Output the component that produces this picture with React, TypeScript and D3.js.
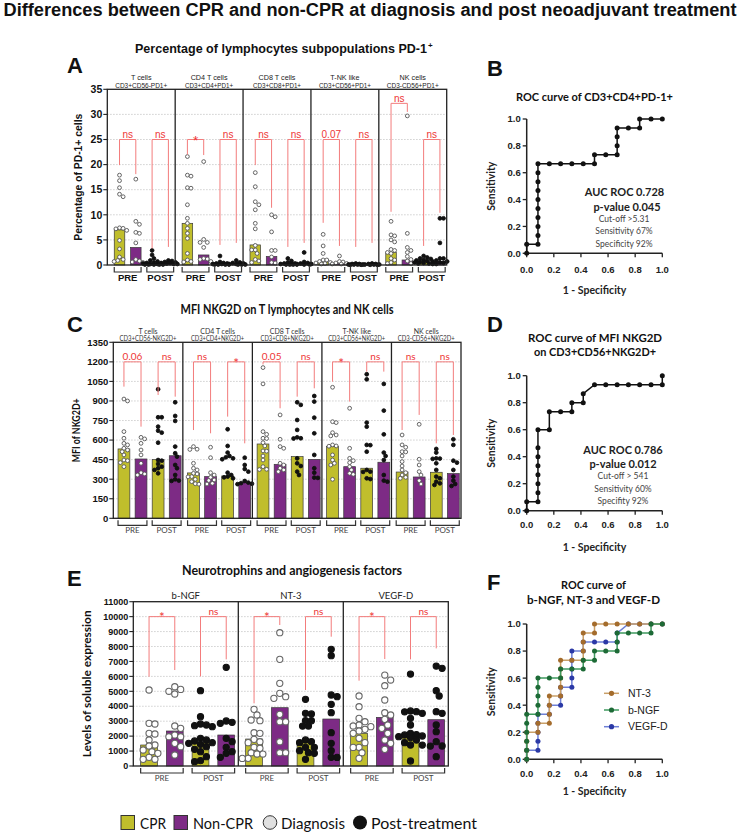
import React from "react";
import * as d3 from "d3";

const ARIAL = "'Liberation Sans', Arial, Helvetica, sans-serif";
const CAL = "Lato, 'Open Sans', sans-serif";
const CPR_COLOR = "#c0be2c";
const NON_COLOR = "#7d2b85";
const RED_LINE = "#f37c7c";
const RED_TEXT = "#ee3636";

const seriesKeys = ["CPR-PRE", "NonCPR-PRE", "CPR-POST", "NonCPR-POST"];
const seriesColors = [CPR_COLOR, NON_COLOR, CPR_COLOR, NON_COLOR];
const stageLabels = ["PRE", "POST"];

// ---------- Panel A ----------
const aCells = ["T cells", "CD4 T cells", "CD8 T cells", "T-NK like", "NK cells"];
const aMarkers = ["CD3+CD56-PD1+", "CD3+CD4+PD1+", "CD3+CD8+PD1+", "CD3+CD56+PD1+", "CD3-CD56+PD1+"];
const aTicks = [0, 5, 10, 15, 20, 25, 30, 35];
const aBars = [
  [7.0, 3.5, 0.3, 0.3],
  [8.3, 2.0, 0.2, 0.2],
  [4.0, 1.7, 0.2, 0.2],
  [0.6, 0.3, 0.1, 0.1],
  [2.5, 1.0, 0.8, 0.7],
];
const aPoints = [
  [[17.9, 16.8, 15.4, 14.1, 13.6, 7.4, 7.3, 7.2, 6.9, 4.9, 3.2, 1.6, 1.1, 0.9, 0.7],
   [17.1, 8.7, 8.1, 6.5, 6.3, 4.4, 1.1, 0.8, 0.6, 0.5],
   [2.9, 2.0, 1.3, 0.9, 0.7, 0.5, 0.4, 0.3, 0.3, 0.2, 0.2, 0.1, 0.1, 0.1],
   [0.9, 0.8, 0.6, 0.5, 0.4, 0.4, 0.3, 0.2, 0.2, 0.1, 0.1]],
  [[21.6, 17.9, 17.7, 15.4, 15.3, 12.0, 9.3, 8.3, 7.3, 6.3, 5.3, 2.3, 1.0, 0.7, 0.6],
   [20.6, 5.1, 4.5, 4.5, 3.5, 1.3, 1.2, 1.1, 0.7],
   [1.8, 0.6, 0.4, 0.3, 0.3, 0.2, 0.2, 0.1, 0.1, 0.1, 0.1],
   [0.9, 0.5, 0.4, 0.3, 0.2, 0.2, 0.1, 0.1, 0.1]],
  [[18.4, 15.6, 12.6, 12.0, 11.0, 8.3, 7.2, 3.9, 3.0, 3.0, 2.3, 1.1, 0.8, 0.5],
   [10.0, 9.6, 6.6, 2.9, 2.9, 1.6, 0.5, 0.4],
   [1.3, 0.8, 0.5, 0.3, 0.3, 0.2, 0.2, 0.1, 0.1, 0.1, 0.1],
   [2.5, 0.6, 0.4, 0.3, 0.2, 0.2, 0.1, 0.1]],
  [[6.1, 3.8, 2.3, 1.0, 1.0, 0.7, 0.5, 0.4, 0.3, 0.2],
   [1.8, 0.7, 0.6, 0.4, 0.3, 0.2, 0.2],
   [0.3, 0.2, 0.2, 0.1, 0.1, 0.1, 0.1, 0.05, 0.05],
   [0.3, 0.2, 0.2, 0.1, 0.1, 0.1, 0.05, 0.05]],
  [[8.7, 6.0, 5.8, 5.0, 4.6, 3.1, 2.9, 2.5, 2.3, 1.3, 1.0, 0.5, 0.3],
   [29.7, 6.3, 3.5, 2.9, 2.5, 1.7, 1.1, 0.8, 0.3],
   [1.8, 1.5, 1.3, 1.2, 1.0, 0.9, 0.8, 0.7, 0.6, 0.5, 0.4, 0.3, 0.3, 0.2],
   [9.3, 9.3, 4.4, 1.3, 1.3, 0.9, 0.7, 0.5, 0.4, 0.3, 0.2]],
];
const aSigLabels = [["ns", "ns"], ["*", "ns"], ["ns", "ns"], ["0.07", "ns"], ["ns", "ns"]];
const aSigTop = [[25, 25], [25, 25], [25, 25], [25, 25], [32.2, 25]];
const aSigLegs = [
  [[19.9, 18.1], [3.3, 3.6]],
  [[22.0, 21.9], [4.0, 4.4]],
  [[19.9, 11.4], [3.6, 4.4]],
  [[8.4, 3.8], [3.6, 4.4]],
  [[10.6, 30.5], [3.8, 10.4]],
];

// ---------- Panel C ----------
const cCells = ["T cells", "CD4 T cells", "CD8 T cells", "T-NK like", "NK cells"];
const cMarkers = ["CD3+CD56-NKG2D+", "CD3+CD4+NKG2D+", "CD3+CD8+NKG2D+", "CD3+CD56+NKG2D+", "CD3-CD56+NKG2D+"];
const cTicks = [0, 150, 300, 450, 600, 750, 900, 1050, 1200, 1350];
const cBars = [
  [532, 455, 450, 480],
  [348, 320, 325, 275],
  [570, 414, 473, 452],
  [550, 396, 384, 430],
  [355, 317, 353, 343],
];
const cPoints = [
  [[915, 900, 665, 614, 575, 563, 537, 524, 511, 486, 447, 442, 427, 396],
   [621, 609, 575, 524, 486, 422, 350, 340, 332],
   [990, 775, 775, 703, 672, 657, 580, 447, 442, 417, 396, 384, 371, 345],
   [890, 785, 747, 550, 499, 473, 409, 384, 332, 299, 289, 287]],
  [[550, 530, 528, 422, 384, 371, 345, 340, 320, 318, 299, 281, 265, 262],
   [545, 465, 350, 332, 314, 294, 290, 268, 263],
   [683, 555, 504, 478, 468, 460, 453, 350, 332, 320, 314, 307],
   [465, 409, 378, 358, 286, 274, 270, 265, 262]],
  [[1156, 1031, 665, 644, 614, 612, 580, 555, 517, 515, 478, 447, 396, 376, 374],
   [793, 606, 550, 537, 422, 409, 384, 371, 358],
   [890, 870, 754, 678, 621, 614, 612, 460, 422, 401, 358, 332],
   [938, 895, 772, 652, 486, 384, 350, 312, 310]],
  [[1005, 741, 734, 657, 639, 632, 563, 555, 553, 486, 447, 422, 409, 299],
   [844, 537, 460, 442, 427, 396, 371, 345, 337],
   [1105, 1066, 734, 703, 563, 561, 511, 371, 358, 356, 307, 301],
   [1031, 826, 644, 504, 478, 447, 332, 289, 281]],
  [[639, 563, 545, 511, 509, 478, 435, 401, 371, 350, 332, 314, 307],
   [721, 453, 409, 358, 332, 289, 263],
   [532, 504, 460, 458, 456, 422, 371, 320, 307, 281, 268, 256],
   [606, 563, 442, 427, 371, 320, 289, 263, 248]],
];
const cSigLabels = [["0.06", "ns"], ["ns", "*"], ["0.05", "ns"], ["*", "ns"], ["ns", "ns"]];
const cSigTop = [[1200, 1200], [1200, 1200], [1200, 1200], [1200, 1200], [1200, 1200]];
const cSigLegs = [
  [[1010, 703], [946, 933]],
  [[677, 652], [780, 575]],
  [[1180, 844], [933, 997]],
  [[1048, 895], [1125, 1125]],
  [[677, 793], [575, 639]],
];

// ---------- Panel E ----------
const eFactors = ["b-NGF", "NT-3", "VEGF-D"];
const eTicks = [0, 1000, 2000, 3000, 4000, 5000, 6000, 7000, 8000, 9000, 10000, 11000];
const eBars = [
  [1405, 2343, 1584, 2075],
  [1807, 3905, 1718, 3146],
  [2186, 3257, 2120, 3101],
];
const ePoints = [
  [[5087, 2856, 2811, 2186, 2142, 1740, 1406, 1339, 1071, 959, 848, 580, 450, 446],
   [5310, 5130, 5000, 4820, 2677, 2521, 2075, 1963, 1960, 1517, 1294, 736],
   [5042, 3302, 2811, 2744, 2700, 2633, 1852, 1740, 1673, 1562, 1517, 1450, 1294, 1116, 959, 625, 357, 290],
   [6604, 3012, 2922, 2856, 1852, 1628, 1249, 959, 848, 580]],
  [[3793, 3413, 3079, 3034, 2231, 2186, 1785, 1628, 1562, 1249, 1182, 892, 803, 800, 513, 510],
   [8924, 7140, 5532, 4864, 4641, 4529, 3458, 2967, 2960, 1628, 892, 890],
   [4463, 3525, 3480, 3034, 3030, 2677, 2670, 1740, 1628, 1562, 1249, 1245, 1026, 892, 848, 446],
   [7809, 7385, 4752, 4641, 4128, 3570, 2231, 1517, 1026, 580, 575]],
  [[4686, 3971, 3190, 2967, 2744, 2677, 2633, 2454, 2342, 2186, 1852, 1562, 1249, 1245, 892, 513],
   [6090, 5755, 5376, 4418, 3570, 3413, 3123, 2744, 2521, 2186, 1740, 1517, 1116],
   [6157, 3682, 3637, 3630, 3525, 3190, 2744, 2186, 2100, 2075, 2008, 1963, 1900, 1740, 1562, 1406, 1400, 335],
   [6693, 6537, 5042, 4686, 3637, 3525, 2744, 2298, 1628, 1339, 1335, 625]],
];
const eSigLabels = [["*", "ns"], ["*", "ns"], ["*", "ns"]];
const eSigTop = [[10000, 10000], [10000, 10000], [10000, 10000]];
const eSigLegs = [
  [[5980, 6426], [6000, 7140]],
  [[4195, 9440], [5087, 8657]],
  [[5712, 7162], [7140, 7876]],
];

// ---------- ROC data ----------
const rocTicks = [0, 0.2, 0.4, 0.6, 0.8, 1.0];
const bFpr = [0, 0, 0.083, 0.083, 0.083, 0.083, 0.083, 0.083, 0.083, 0.083, 0.083, 0.083, 0.167, 0.25, 0.333, 0.417, 0.5, 0.5, 0.583, 0.667, 0.667, 0.667, 0.667, 0.75, 0.833, 0.833, 0.917, 1];
const bTpr = [0, 0.067, 0.067, 0.133, 0.2, 0.267, 0.333, 0.4, 0.467, 0.533, 0.6, 0.667, 0.667, 0.667, 0.667, 0.667, 0.667, 0.733, 0.733, 0.733, 0.8, 0.867, 0.933, 0.933, 0.933, 1, 1, 1];
const dFpr = [0, 0, 0.083, 0.083, 0.083, 0.083, 0.083, 0.083, 0.083, 0.083, 0.167, 0.167, 0.25, 0.333, 0.333, 0.417, 0.417, 0.5, 0.583, 0.667, 0.75, 0.833, 0.917, 1, 1];
const dTpr = [0, 0.067, 0.067, 0.133, 0.2, 0.267, 0.333, 0.4, 0.467, 0.6, 0.6, 0.733, 0.733, 0.733, 0.8, 0.8, 0.867, 0.933, 0.933, 0.933, 0.933, 0.933, 0.933, 0.933, 1];
const ntFpr = [0, 0, 0, 0, 0.083, 0.083, 0.167, 0.167, 0.167, 0.167, 0.25, 0.25, 0.25, 0.25, 0.25, 0.333, 0.417, 0.417, 0.417, 0.417, 0.5, 0.5, 0.583, 0.667, 0.75, 0.833, 0.917, 1];
const ntTpr = [0, 0.067, 0.133, 0.2, 0.2, 0.267, 0.267, 0.333, 0.4, 0.467, 0.467, 0.533, 0.6, 0.667, 0.733, 0.733, 0.733, 0.8, 0.867, 0.933, 0.933, 1, 1, 1, 1, 1, 1, 1];
const ngfFpr = [0, 0, 0, 0, 0, 0, 0.083, 0.083, 0.083, 0.083, 0.083, 0.167, 0.25, 0.25, 0.333, 0.417, 0.417, 0.5, 0.5, 0.583, 0.667, 0.667, 0.667, 0.75, 0.833, 0.917, 0.917, 1];
const ngfTpr = [0, 0.067, 0.133, 0.2, 0.267, 0.333, 0.333, 0.4, 0.467, 0.533, 0.6, 0.6, 0.6, 0.667, 0.667, 0.667, 0.733, 0.733, 0.8, 0.8, 0.8, 0.867, 0.933, 0.933, 0.933, 0.933, 1, 1];
const vegfFpr = [0, 0, 0.083, 0.083, 0.083, 0.083, 0.083, 0.167, 0.167, 0.25, 0.25, 0.25, 0.333, 0.333, 0.333, 0.333, 0.333, 0.417, 0.417, 0.5, 0.583, 0.667, 0.667, 0.75, 0.833, 0.917, 1];
const vegfTpr = [0, 0.067, 0.067, 0.133, 0.2, 0.267, 0.333, 0.333, 0.4, 0.4, 0.467, 0.533, 0.533, 0.6, 0.667, 0.733, 0.8, 0.8, 0.867, 0.867, 0.867, 0.867, 0.933, 1, 1, 1, 1];

const legendItems = ["CPR", "Non-CPR", "Diagnosis", "Post-treatment"];
const fLegend = ["NT-3", "b-NGF", "VEGF-D"];

function swarm(values: number[], cx: number, y: (v: number) => number, r: number, maxHalf: number) {
  const placed: { x: number; y: number }[] = [];
  const sorted = [...values].sort((a, b) => b - a);
  const step = r * 0.95;
  const minD = r * 1.9;
  for (const v of sorted) {
    const py = y(v);
    let bestX = cx;
    let bestD = -1;
    for (let k = 0; k < 80; k++) {
      const off = k === 0 ? 0 : (k % 2 === 1 ? 1 : -1) * Math.ceil(k / 2) * step;
      if (Math.abs(off) > maxHalf) break;
      const px = cx + off;
      let d = Infinity;
      for (const p of placed) d = Math.min(d, Math.hypot(p.x - px, p.y - py));
      if (d >= minD) { bestX = px; bestD = d; break; }
      if (d > bestD) { bestD = d; bestX = px; }
    }
    placed.push({ x: bestX, y: py });
  }
  return placed;
}

type BarPanelProps = {
  x0: number; x1: number; yZero: number; yTop: number; yMax: number; ticks: number[];
  headers: string[]; subHeaders?: string[]; headerFont: string; headerSize: number; headerY: number; subHeaderY?: number; headerColor: string; charW?: number;
  bars: number[][]; points: number[][][]; sigLabels: string[][]; sigTop: number[][]; sigLegs: number[][][];
  f0: number; f1: number; barFrac: number; r: number; ptStroke: string; ptStrokeW: number; spread: number;
  tickFont: string; tickSize: number;
  stageFont: string; stageSize: number; stageWeight: any; stageDy: number; stageColor: string;
  sigFont: string; sigSize: number;
  yTitle: string; yTitleX: number; yTitleFont: string; yTitleSize: number; yTitleLen?: number;
};

function BarPanel(p: BarPanelProps) {
  const y = d3.scaleLinear().domain([0, p.yMax]).range([p.yZero, p.yTop]);
  const n = p.headers.length;
  const gx = d3.scaleBand<number>().domain(d3.range(n)).range([p.x0, p.x1]);
  const W = gx.bandwidth();
  const bw = W * p.barFrac;
  const grid = p.ticks.filter((t) => t > 0 && t < p.yMax);
  return (
    <g>
      {grid.map((t) => (
        <line key={"g" + t} x1={p.x0} x2={p.x1} y1={y(t)} y2={y(t)} stroke="#b5b5b5" strokeWidth={0.8} strokeDasharray="1.2,1.8" />
      ))}
      {p.headers.map((h, g) => {
        const gl = gx(g) as number;
        const inner = d3.scalePoint<string>().domain(seriesKeys).range([gl + W * p.f0, gl + W * p.f1]);
        return (
          <g key={"grp" + g}>
            {seriesKeys.map((k, i) => {
              const v = p.bars[g][i];
              const cx = inner(k) as number;
              return (
                <rect key={"b" + k} x={cx - bw / 2} y={y(v)} width={bw} height={p.yZero - y(v)} fill={seriesColors[i]} stroke="#3a3a3a" strokeWidth={0.7} />
              );
            })}
            {seriesKeys.map((k, i) => {
              const cx = inner(k) as number;
              const pts = swarm(p.points[g][i], cx, y, p.r, bw * p.spread);
              const filled = i >= 2;
              return pts.map((pt, j) => (
                <circle key={"p" + k + j} cx={pt.x} cy={pt.y} r={p.r} fill={filled ? "#111" : "#fff"} stroke={filled ? "#111" : p.ptStroke} strokeWidth={p.ptStrokeW} />
              ));
            })}
            {[0, 1].map((s) => {
              const xl = inner(seriesKeys[2 * s]) as number;
              const xr = inner(seriesKeys[2 * s + 1]) as number;
              const top = y(p.sigTop[g][s]);
              const yl = y(p.sigLegs[g][s][0]);
              const yr = y(p.sigLegs[g][s][1]);
              const lab = p.sigLabels[g][s];
              const star = lab === "*";
              const fs = star ? p.sigSize * 1.35 : p.sigSize;
              return (
                <g key={"s" + s}>
                  <path d={`M${xl},${yl}V${top}H${xr}V${yr}`} fill="none" stroke={RED_LINE} strokeWidth={1} />
                  <text x={(xl + xr) / 2} y={star ? top + fs * 0.42 : top - 1.8} textAnchor="middle" fontFamily={p.sigFont} fontSize={fs} fill={RED_TEXT}>{lab}</text>
                  <path d={`M${xl - bw / 2},${p.yZero + 2}V${p.yZero + 7}H${xr + bw / 2}V${p.yZero + 2}`} fill="none" stroke="#333" strokeWidth={1.2} />
                  <text x={(xl + xr) / 2} y={p.yZero + p.stageDy} textAnchor="middle" fontFamily={p.stageFont} fontSize={p.stageSize} fontWeight={p.stageWeight} fill={p.stageColor}>{stageLabels[s]}</text>
                </g>
              );
            })}
            <text x={gl + W / 2} y={p.headerY} textAnchor="middle" fontFamily={p.headerFont} fontSize={p.headerSize} fill={p.headerColor}>{h}</text>
            {p.subHeaders && (
              <text x={gl + W / 2} y={p.subHeaderY} textAnchor="middle" fontFamily={p.headerFont} fontSize={p.headerSize} fill={p.headerColor}
                textLength={p.charW ? p.subHeaders[g].length * p.charW : undefined} lengthAdjust="spacingAndGlyphs">{p.subHeaders[g]}</text>
            )}
          </g>
        );
      })}
      <rect x={p.x0} y={p.yTop} width={p.x1 - p.x0} height={p.yZero - p.yTop} fill="none" stroke="#222" strokeWidth={1.3} />
      {d3.range(1, n).map((g) => (
        <line key={"d" + g} x1={gx(g)} x2={gx(g)} y1={p.yTop} y2={p.yZero} stroke="#222" strokeWidth={1.3} />
      ))}
      {p.ticks.map((t) => (
        <g key={"t" + t}>
          <line x1={p.x0 - 4} x2={p.x0} y1={y(t)} y2={y(t)} stroke="#222" strokeWidth={1.1} />
          <text x={p.x0 - 5} y={y(t) + p.tickSize * 0.36} textAnchor="end" fontFamily={p.tickFont} fontWeight="bold" fontSize={p.tickSize} fill="#111">{t}</text>
        </g>
      ))}
      <text transform={`translate(${p.yTitleX},${(p.yZero + p.yTop) / 2}) rotate(-90)`} textAnchor="middle" dy="0.35em" fontFamily={p.yTitleFont} fontWeight="bold" fontSize={p.yTitleSize} fill="#111" textLength={p.yTitleLen} lengthAdjust={p.yTitleLen ? "spacingAndGlyphs" : undefined}>{p.yTitle}</text>
    </g>
  );
}

type Curve = { fpr: number[]; tpr: number[]; dot: string; line: string };
type RocProps = { yZero: number; yOne: number; curves: Curve[]; xTickBase: number; xTitleBase: number };

function Roc(p: RocProps) {
  const x = d3.scaleLinear().domain([0, 1]).range([526.7, 662.3]);
  const y = d3.scaleLinear().domain([0, 1]).range([p.yZero, p.yOne]);
  return (
    <g>
      <line x1={x(0)} x2={x(1)} y1={p.yZero} y2={p.yZero} stroke="#222" strokeWidth={1.5} />
      <line x1={x(0)} x2={x(0)} y1={p.yZero} y2={p.yOne} stroke="#222" strokeWidth={1.5} />
      {rocTicks.map((t) => (
        <g key={"rt" + t}>
          <line x1={x(t)} x2={x(t)} y1={p.yZero} y2={p.yZero + 4} stroke="#222" strokeWidth={1.3} />
          <text x={x(t)} y={p.xTickBase} textAnchor="middle" fontFamily={ARIAL} fontWeight="bold" fontSize={9.5} fill="#222">{t.toFixed(1)}</text>
          <line x1={x(0) - 4} x2={x(0)} y1={y(t)} y2={y(t)} stroke="#222" strokeWidth={1.3} />
          <text x={x(0) - 6} y={y(t) + 3.4} textAnchor="end" fontFamily={ARIAL} fontWeight="bold" fontSize={9.5} fill="#222">{t.toFixed(1)}</text>
        </g>
      ))}
      {p.curves.map((c, ci) => {
        const pts = c.fpr.map((f, i) => [x(f), y(c.tpr[i])] as [number, number]);
        const path = d3.line()(pts) || "";
        return (
          <g key={"c" + ci}>
            <path d={path} fill="none" stroke={c.line} strokeWidth={1.5} />
            {pts.map((pt, i) => (
              <circle key={i} cx={pt[0]} cy={pt[1]} r={2.5} fill={c.dot} />
            ))}
          </g>
        );
      })}
      <text x={x(0.5)} y={p.xTitleBase} textAnchor="middle" fontFamily={CAL} fontWeight="bold" fontSize={10.5} fill="#222">1 - Specificity</text>
      <text transform={`translate(491.7,${(p.yZero + p.yOne) / 2}) rotate(-90)`} textAnchor="middle" dy="0.35em" fontFamily={CAL} fontWeight="bold" fontSize={10.5} fill="#222">Sensitivity</text>
    </g>
  );
}

export default function App() {
  const letter = (t: string, x: number, yb: number) => (
    <text x={x} y={yb} fontFamily={ARIAL} fontWeight="bold" fontSize={22} fill="#111">{t}</text>
  );
  const legendX = [121, 174, 270, 360];
  return (
    <svg width={740} height={833} style={{ position: "absolute", left: 0, top: 0, background: "#fff" }} xmlns="http://www.w3.org/2000/svg">
      <rect width={740} height={833} fill="#fff" />
      <text x={370} y={16} textAnchor="middle" fontFamily={ARIAL} fontWeight="bold" fontSize={17.5} textLength={733} lengthAdjust="spacingAndGlyphs" fill="#111">Differences between CPR and non-CPR at diagnosis and post neoadjuvant treatment</text>

      {/* Panel A */}
      {letter("A", 67, 73)}
      <text x={135} y={53} fontFamily={ARIAL} fontWeight="bold" fontSize={12} textLength={292} lengthAdjust="spacingAndGlyphs" fill="#111">Percentage of lymphocytes subpopulations PD-1</text>
      <text x={428} y={47.5} fontFamily={ARIAL} fontWeight="bold" fontSize={8} fill="#111">+</text>
      <BarPanel
        x0={107.3} x1={446.7} yZero={265} yTop={89.3} yMax={35} ticks={aTicks}
        headers={aCells} subHeaders={aMarkers} headerFont={ARIAL} headerSize={7.2} headerY={80} subHeaderY={88} headerColor="#222" charW={4.0}
        bars={aBars} points={aPoints} sigLabels={aSigLabels} sigTop={aSigTop} sigLegs={aSigLegs}
        f0={0.18} f1={0.9} barFrac={0.155} r={1.9} ptStroke="#555" ptStrokeW={0.9} spread={0.9}
        tickFont={ARIAL} tickSize={10.5}
        stageFont={ARIAL} stageSize={9.5} stageWeight="bold" stageDy={16} stageColor="#111"
        sigFont={ARIAL} sigSize={10}
        yTitle="Percentage of PD-1+ cells" yTitleX={78} yTitleFont={ARIAL} yTitleSize={10} yTitleLen={127}
      />

      {/* Panel B */}
      {letter("B", 487, 76)}
      <text x={594.5} y={101} textAnchor="middle" fontFamily={CAL} fontWeight="bold" fontSize={11.5} textLength={157} lengthAdjust="spacingAndGlyphs" fill="#111">ROC curve of CD3+CD4+PD-1+</text>
      <Roc yZero={253.3} yOne={119} xTickBase={272.5} xTitleBase={294} curves={[{ fpr: bFpr, tpr: bTpr, dot: "#111", line: "#111" }]} />
      <g fontFamily={CAL} textAnchor="middle" fill="#222">
        <text x={624.5} y={196} fontWeight="bold" fontSize={11}>AUC ROC 0.728</text>
        <text x={627} y={211} fontWeight="bold" fontSize={11}>p-value 0.045</text>
        <text x={624} y={221.5} fontSize={8.5} fill="#444">Cut-off &gt;5.31</text>
        <text x={624} y={234} fontSize={8.5} fill="#444">Sensitivity 67%</text>
        <text x={624} y={246.5} fontSize={8.5} fill="#444">Specificity 92%</text>
      </g>

      {/* Panel C */}
      {letter("C", 67, 332)}
      <text x={287} y={314} textAnchor="middle" fontFamily={CAL} fontWeight="bold" fontSize={12.5} textLength={213} lengthAdjust="spacingAndGlyphs" fill="#111">MFI NKG2D on T lymphocytes and NK cells</text>
      <BarPanel
        x0={113.3} x1={461} yZero={518.3} yTop={342.3} yMax={1350} ticks={cTicks}
        headers={cCells} subHeaders={cMarkers} headerFont={CAL} headerSize={7} headerY={333.5} subHeaderY={341.3} headerColor="#333" charW={3.8}
        bars={cBars} points={cPoints} sigLabels={cSigLabels} sigTop={cSigTop} sigLegs={cSigLegs}
        f0={0.153} f1={0.89} barFrac={0.17} r={1.9} ptStroke="#555" ptStrokeW={0.9} spread={0.8}
        tickFont={ARIAL} tickSize={9.5}
        stageFont={CAL} stageSize={8} stageWeight="normal" stageDy={15} stageColor="#444"
        sigFont={CAL} sigSize={10}
        yTitle="MFI of NKG2D+" yTitleX={76} yTitleFont={CAL} yTitleSize={11} yTitleLen={64}
      />

      {/* Panel D */}
      {letter("D", 487, 332)}
      <text x={595} y={342} textAnchor="middle" fontFamily={CAL} fontWeight="bold" fontSize={11.5} textLength={134} lengthAdjust="spacingAndGlyphs" fill="#111">ROC curve of MFI NKG2D</text>
      <text x={595} y={356} textAnchor="middle" fontFamily={CAL} fontWeight="bold" fontSize={11.5} textLength={122} lengthAdjust="spacingAndGlyphs" fill="#111">on CD3+CD56+NKG2D+</text>
      <Roc yZero={510.7} yOne={375.7} xTickBase={528} xTitleBase={550.5} curves={[{ fpr: dFpr, tpr: dTpr, dot: "#111", line: "#111" }]} />
      <g fontFamily={CAL} textAnchor="middle" fill="#222">
        <text x={623} y={454} fontWeight="bold" fontSize={11}>AUC ROC 0.786</text>
        <text x={623} y={467.5} fontWeight="bold" fontSize={11}>p-value 0.012</text>
        <text x={623} y={479} fontSize={8.5} fill="#444">Cut-off &gt; 541</text>
        <text x={623} y={491.5} fontSize={8.5} fill="#444">Sensitivity 60%</text>
        <text x={623} y={504} fontSize={8.5} fill="#444">Specifity 92%</text>
      </g>

      {/* Panel E */}
      {letter("E", 67, 586)}
      <text x={292} y={575} textAnchor="middle" fontFamily={CAL} fontWeight="bold" fontSize={12.5} textLength={220} lengthAdjust="spacingAndGlyphs" fill="#111">Neurotrophins and angiogenesis factors</text>
      <BarPanel
        x0={133.3} x1={448.3} yZero={766} yTop={601.7} yMax={11000} ticks={eTicks}
        headers={eFactors} headerFont={CAL} headerSize={9.5} headerY={598.5} headerColor="#222"
        bars={eBars} points={ePoints} sigLabels={eSigLabels} sigTop={eSigTop} sigLegs={eSigLegs}
        f0={0.15} f1={0.885} barFrac={0.16} r={3.1} ptStroke="#666" ptStrokeW={1.1} spread={0.75}
        tickFont={ARIAL} tickSize={9}
        stageFont={CAL} stageSize={8} stageWeight="normal" stageDy={14.5} stageColor="#444"
        sigFont={CAL} sigSize={10}
        yTitle="Levels of soluble expression" yTitleX={87} yTitleFont={CAL} yTitleSize={11} yTitleLen={147}
      />

      {/* Panel F */}
      {letter("F", 487, 590)}
      <text x={593.5} y={589} textAnchor="middle" fontFamily={CAL} fontWeight="bold" fontSize={11.5} textLength={65} lengthAdjust="spacingAndGlyphs" fill="#111">ROC curve of</text>
      <text x={593.5} y={604} textAnchor="middle" fontFamily={CAL} fontWeight="bold" fontSize={11.5} textLength={133} lengthAdjust="spacingAndGlyphs" fill="#111">b-NGF, NT-3 and VEGF-D</text>
      <Roc yZero={759.3} yOne={624} xTickBase={776.5} xTitleBase={795} curves={[
        { fpr: vegfFpr, tpr: vegfTpr, dot: "#2b39a6", line: "#6e80d6" },
        { fpr: ntFpr, tpr: ntTpr, dot: "#a46c2c", line: "#c9a069" },
        { fpr: ngfFpr, tpr: ngfTpr, dot: "#1d6a36", line: "#3f9a5f" },
      ]} />
      {fLegend.map((name, i) => {
        const dots = ["#a46c2c", "#1d6a36", "#2b39a6"];
        const lines = ["#c9a069", "#3f9a5f", "#6e80d6"];
        const yy = 693.3 + i * 16.7;
        return (
          <g key={name}>
            <line x1={604} x2={619} y1={yy} y2={yy} stroke={lines[i]} strokeWidth={1.5} />
            <circle cx={611.5} cy={yy} r={2.6} fill={dots[i]} />
            <text x={628} y={yy + 3.7} fontFamily={ARIAL} fontSize={10.5} fill="#222">{name}</text>
          </g>
        );
      })}

      {/* Legend */}
      <rect x={legendX[0]} y={815.5} width={13.5} height={14} fill={CPR_COLOR} stroke="#333" strokeWidth={1} />
      <text x={140} y={829} fontFamily={CAL} fontSize={16} textLength={26} lengthAdjust="spacingAndGlyphs" fill="#111">{legendItems[0]}</text>
      <rect x={legendX[1]} y={815.5} width={13.5} height={14} fill={NON_COLOR} stroke="#333" strokeWidth={1} />
      <text x={193} y={829} fontFamily={CAL} fontSize={16} textLength={60} lengthAdjust="spacingAndGlyphs" fill="#111">{legendItems[1]}</text>
      <circle cx={legendX[2]} cy={822.5} r={6.8} fill="#e0e0e0" stroke="#333" strokeWidth={1} />
      <text x={281} y={829} fontFamily={CAL} fontSize={16} textLength={64} lengthAdjust="spacingAndGlyphs" fill="#111">{legendItems[2]}</text>
      <circle cx={legendX[3]} cy={822.5} r={7} fill="#111" />
      <text x={371} y={829} fontFamily={CAL} fontSize={16} textLength={106} lengthAdjust="spacingAndGlyphs" fill="#111">{legendItems[3]}</text>
    </svg>
  );
}
